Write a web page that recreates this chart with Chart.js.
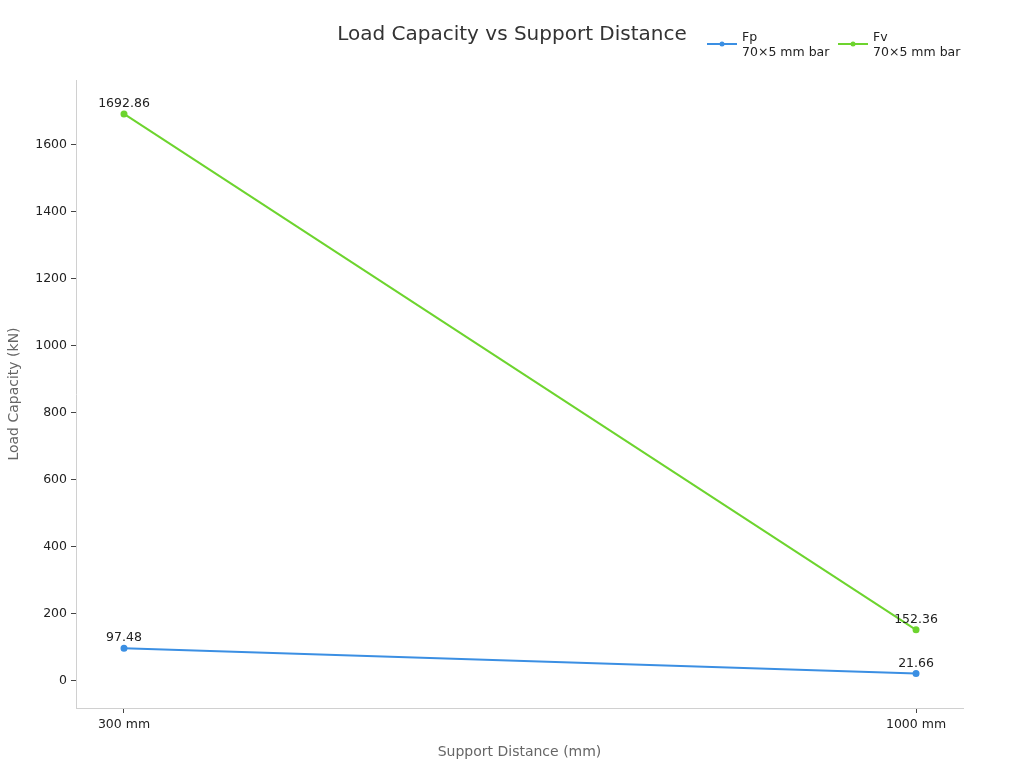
<!DOCTYPE html>
<html>
<head>
<meta charset="utf-8">
<script src="https://cdn.jsdelivr.net/npm/chart.js@4/dist/chart.umd.min.js"></script>
<style>
  html, body { margin: 0; padding: 0; background: #fff; }
  #wrap { width: 1024px; height: 768px; position: relative; }
</style>
</head>
<body>
<div id="wrap"><canvas id="c"></canvas></div>
<script>
// Carga vs distância entre apoios
const distancias = ["300 mm", "1000 mm"];
const fp = [97.48, 21.66];
const fv = [1692.86, 152.36];
const nomes = [["Fp", "70×5 mm bar"], ["Fv", "70×5 mm bar"]];
const yTicks = [0, 200, 400, 600, 800, 1000, 1200, 1400, 1600];

const C = { azul: "#3b8fe3", verde: "#6dd42e", texto: "#222", eixo: "#d0d0d0", titulo: "#333", cinza: "#666" };
const FONTE = "'DejaVu Sans', sans-serif";

const pts = (arr) => arr.map((v, i) => ({ x: i, y: v }));

// rótulos de valor, título e legenda desenhados à mão
const extras = {
  id: "extras",
  afterDatasetsDraw(chart) {
    const ctx = chart.ctx;
    ctx.save();
    ctx.font = "12.5px " + FONTE;
    ctx.fillStyle = C.texto;
    ctx.textAlign = "center";
    ctx.textBaseline = "alphabetic";
    chart.data.datasets.forEach((ds, di) => {
      chart.getDatasetMeta(di).data.forEach((p, i) => {
        ctx.fillText(ds.data[i].y.toFixed(2), p.x, p.y - 7);
      });
    });
    ctx.restore();
  },
  afterDraw(chart) {
    const ctx = chart.ctx;
    ctx.save();
    ctx.font = "20px " + FONTE;
    ctx.fillStyle = C.titulo;
    ctx.textAlign = "center";
    ctx.textBaseline = "alphabetic";
    ctx.fillText("Load Capacity vs Support Distance", 512, 40);

    const cores = [C.azul, C.verde];
    const xs = [707, 838];
    ctx.font = "12.5px " + FONTE;
    ctx.textAlign = "left";
    nomes.forEach((n, i) => {
      const x = xs[i];
      ctx.strokeStyle = cores[i];
      ctx.lineWidth = 2;
      ctx.beginPath(); ctx.moveTo(x, 44); ctx.lineTo(x + 30, 44); ctx.stroke();
      ctx.fillStyle = cores[i];
      ctx.beginPath(); ctx.arc(x + 15, 44, 2.5, 0, Math.PI * 2); ctx.fill();
      ctx.fillStyle = C.texto;
      ctx.fillText(n[0], x + 35, 41);
      ctx.fillText(n[1], x + 35, 56);
    });
    ctx.restore();
  },
};

new Chart(document.getElementById("c"), {
  type: "line",
  data: {
    datasets: [
      { label: "Fp", data: pts(fp), borderColor: C.azul, backgroundColor: C.azul, borderWidth: 2, pointRadius: 2.5, pointHoverRadius: 2.5 },
      { label: "Fv", data: pts(fv), borderColor: C.verde, backgroundColor: C.verde, borderWidth: 2, pointRadius: 2.5, pointHoverRadius: 2.5 },
    ],
  },
  plugins: [extras],
  options: {
    responsive: true, maintainAspectRatio: false, animation: false,
    layout: { padding: { top: 80, right: 61, left: 0, bottom: 0 } },
    plugins: { legend: { display: false }, title: { display: false }, tooltip: { enabled: false } },
    scales: {
      x: {
        type: "linear", min: -0.0606, max: 1.0593,
        afterBuildTicks: (s) => { s.ticks = distancias.map((_, i) => ({ value: i })); },
        afterFit: (s) => { s.height = 60; },
        ticks: { callback: (v) => distancias[v] ?? "", color: C.texto, font: { size: 12.5, family: FONTE }, padding: 4 },
        grid: { drawOnChartArea: false, tickLength: 5, tickColor: "#444", color: C.eixo },
        border: { color: C.eixo },
        title: { display: true, text: "Support Distance (mm)", color: C.cinza, font: { size: 14, family: FONTE }, padding: { top: 2, bottom: 7 } },
      },
      y: {
        min: -81, max: 1794,
        afterBuildTicks: (s) => { s.ticks = yTicks.map((v) => ({ value: v })); },
        afterFit: (s) => { s.width = 76; },
        ticks: { callback: (v) => String(v), color: C.texto, font: { size: 12.5, family: FONTE }, padding: 4 },
        grid: { drawOnChartArea: false, tickLength: 5, tickColor: "#444", color: C.eixo },
        border: { color: C.eixo },
        title: { display: true, text: "Load Capacity (kN)", color: C.cinza, font: { size: 14, family: FONTE }, padding: { top: 6, bottom: 4 } },
      },
    },
  },
});
</script>
</body>
</html>
